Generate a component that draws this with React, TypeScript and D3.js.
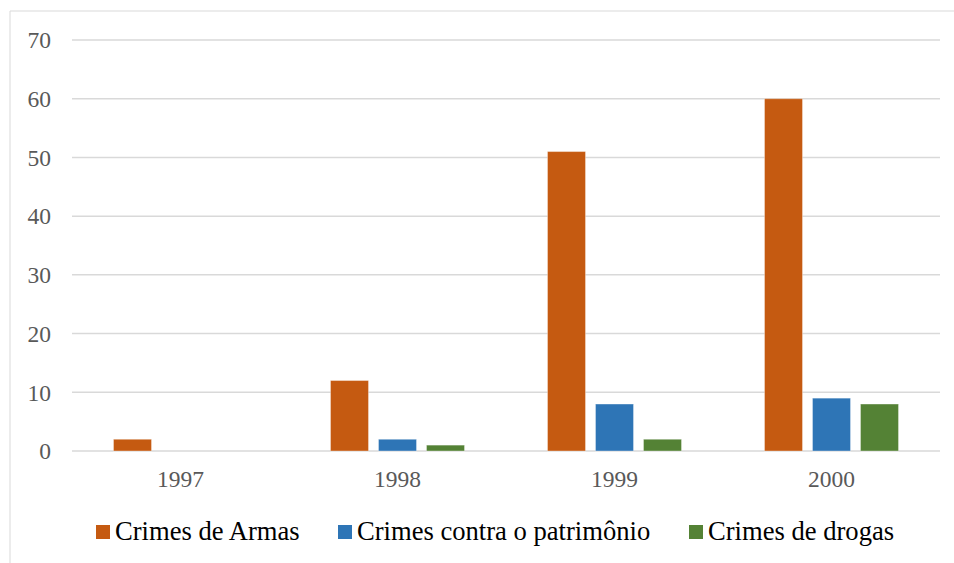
import React from "react";
import * as d3 from "d3";

const years = ["1997", "1998", "1999", "2000"];
const seriesNames = ["Crimes de Armas", "Crimes contra o patrimônio", "Crimes de drogas"];
const armas = [2, 12, 51, 60];
const patrimonio = [0, 2, 8, 9];
const drogas = [0, 1, 2, 8];
const yTicks = [0, 10, 20, 30, 40, 50, 60, 70];
const colors = ["#C55A11", "#2E75B6", "#548235"];

const font = '"Liberation Serif", "Times New Roman", Times, "DejaVu Serif", serif';

export default function App() {
  const W = 954, H = 563;
  const x0 = d3.scaleBand<string>().domain(years).range([72, 940]);
  const y = d3.scaleLinear().domain([0, 70]).range([451, 40]);
  const series = [armas, patrimonio, drogas];
  const barW = 38, gap = 10;
  const groupW = barW * 3 + gap * 2;
  const x1 = d3.scaleBand<number>().domain([0, 1, 2]).range([0, groupW]).paddingInner(gap / (barW + gap));
  const legendX = [96, 338, 689];

  return (
    <svg width={W} height={H} style={{ position: "absolute", left: 0, top: 0, fontFamily: font }}>
      <rect x={0} y={0} width={W} height={H} fill="#fff" />
      <line x1={10} y1={11} x2={W} y2={11} stroke="#d9d9d9" strokeWidth={1} />
      <line x1={10} y1={11} x2={10} y2={H} stroke="#d9d9d9" strokeWidth={1} />
      {yTicks.map((t) => (
        <g key={t}>
          <line x1={72} x2={940} y1={y(t)} y2={y(t)} stroke="#d9d9d9" strokeWidth={1.5} />
          <text x={51} y={y(t)} dy="0.35em" textAnchor="end" style={{ fontFamily: font, fontSize: 23.5 }} fill="#595959">
            {t}
          </text>
        </g>
      ))}
      {years.map((yr, i) => {
        const gx = (x0(yr) as number) + (x0.bandwidth() - groupW) / 2;
        return (
          <g key={yr}>
            {series.map((s, k) =>
              s[i] > 0 ? (
                <rect
                  key={k}
                  x={gx + (x1(k) as number)}
                  y={y(s[i])}
                  width={x1.bandwidth()}
                  height={y(0) - y(s[i])}
                  fill={colors[k]}
                  stroke="#ffffff"
                  strokeOpacity={0.35}
                  strokeWidth={1}
                />
              ) : null
            )}
            <text x={(x0(yr) as number) + x0.bandwidth() / 2} y={487} textAnchor="middle" style={{ fontFamily: font, fontSize: 23.5 }} fill="#595959">
              {yr}
            </text>
          </g>
        );
      })}
      {seriesNames.map((n, k) => (
        <g key={n}>
          <rect x={legendX[k]} y={525} width={14} height={14} fill={colors[k]} />
          <text x={legendX[k] + 19} y={540} style={{ fontFamily: font, fontSize: 26.6 }} fill="#000">
            {n}
          </text>
        </g>
      ))}
    </svg>
  );
}
